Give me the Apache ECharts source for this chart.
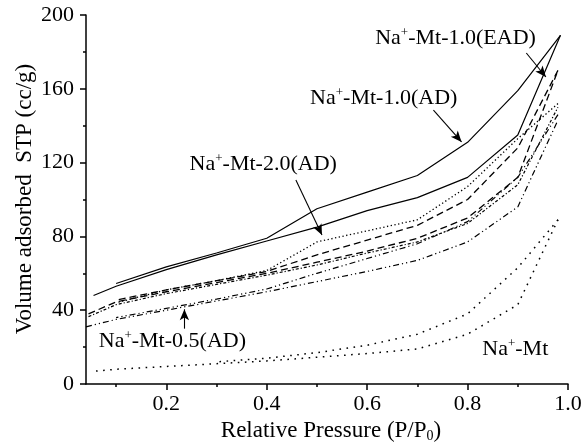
<!DOCTYPE html>
<html>
<head>
<meta charset="utf-8">
<script src="https://cdn.jsdelivr.net/npm/echarts@6/dist/echarts.min.js"></script>
<style>html,body{margin:0;padding:0;background:#fff}#c{width:582px;height:442px}</style>
</head>
<body>
<div id="c"></div>
<script>
// ---- data (relative pressure P/P0, volume adsorbed cc/g) ----
const xTickLabels = [0.2, 0.4, 0.6, 0.8, 1.0];
const xMinorTicks = [0.1, 0.3, 0.5, 0.7, 0.9];

const ad10_adsX = [0.055, 0.1, 0.2, 0.3, 0.4, 0.5, 0.6, 0.7, 0.8, 0.9, 0.985];
const ad10_adsY = [48, 53, 62, 70, 77.5, 85, 94, 101, 112, 135, 189];
const ad10_desX = [0.985, 0.9, 0.8, 0.7, 0.6, 0.5, 0.4, 0.3, 0.2, 0.1];
const ad10_desY = [189, 159, 131, 113, 104, 95, 79, 71, 63.5, 54.5];

const ead10_adsX = [0.045, 0.1, 0.2, 0.3, 0.4, 0.5, 0.6, 0.7, 0.8, 0.9, 0.98];
const ead10_adsY = [38, 44.5, 50, 55, 60, 66, 72, 79, 90, 112, 170];
const ead10_desX = [0.98, 0.9, 0.8, 0.7, 0.6, 0.5, 0.4, 0.3, 0.2, 0.1];
const ead10_desY = [170, 128, 100, 86, 78, 70, 61, 56, 51, 45.5];

const ad20_adsX = [0.045, 0.1, 0.2, 0.3, 0.4, 0.5, 0.6, 0.7, 0.8, 0.9, 0.98];
const ad20_adsY = [36.5, 43, 49, 54, 59, 64.5, 71, 77, 87, 108, 150];
const ad20_desX = [0.98, 0.9, 0.8, 0.7, 0.6, 0.5, 0.4, 0.3, 0.2, 0.1];
const ad20_desY = [152, 133, 107, 89, 83, 77, 61.5, 56, 51, 44];

const ad05_adsX = [0.04, 0.1, 0.2, 0.3, 0.4, 0.5, 0.6, 0.7, 0.8, 0.9, 0.98];
const ad05_adsY = [31, 35, 40, 45, 50, 55.5, 61, 67, 77, 96, 143];
const ad05_desX = [0.98, 0.9, 0.8, 0.7, 0.6, 0.5, 0.4, 0.3, 0.2, 0.1];
const ad05_desY = [146, 112, 88, 76, 68, 60, 51.5, 46, 41, 36];

const mt_adsX = [0.06, 0.1, 0.2, 0.3, 0.4, 0.5, 0.6, 0.7, 0.8, 0.9, 0.98];
const mt_adsY = [7, 8, 9.5, 11, 12.5, 14.5, 16.5, 19, 27, 43, 89];
const mt_desX = [0.98, 0.9, 0.8, 0.7, 0.6, 0.5, 0.4, 0.3];
const mt_desY = [89, 63, 38, 27, 21, 17, 14, 12];

// annotation labels (text centre in data coords)
const labelTexts = ['Na|-Mt-1.0(EAD)', 'Na|-Mt-1.0(AD)', 'Na|-Mt-2.0(AD)', 'Na|-Mt-0.5(AD)', 'Na|-Mt'];
const labelX = [0.776, 0.633, 0.393, 0.212, 0.895];
const labelY = [187.5, 155, 119, 23, 19];
// arrows: from (x1,y1) to (x2,y2)
const arrowX1 = [0.917, 0.732, 0.458, 0.236];
const arrowY1 = [179.4, 148.5, 110.6, 30];
const arrowX2 = [0.956, 0.788, 0.51, 0.236];
const arrowY2 = [166.4, 131.2, 80.7, 40.5];

const FONT = "'Liberation Serif','Times New Roman',serif";
const zip = (xs, ys) => xs.map((x, i) => [x, ys[i]]);

function line(name, xs, ys, dash, width) {
  return {
    name: name, type: 'line', data: zip(xs, ys), symbol: 'none', silent: true,
    lineStyle: { color: '#000', width: width || 1.2, type: dash },
    xAxisIndex: 0, yAxisIndex: 0, z: 3
  };
}

const SOLID = 'solid';
const DASH = [7, 4];
const DOT = [1.3, 2.5];
const SDASHDOT = [3, 2, 1.2, 2];
const DASHDOTDOT = [6, 3, 1.2, 3, 1.2, 3];
const SPARSE = [1.6, 5.5];

const series = [
  line('1.0AD-ads', ad10_adsX, ad10_adsY, SOLID),
  line('1.0AD-des', ad10_desX, ad10_desY, SOLID),
  line('1.0EAD-ads', ead10_adsX, ead10_adsY, DASH, 1.3),
  line('1.0EAD-des', ead10_desX, ead10_desY, DASH, 1.3),
  line('2.0AD-ads', ad20_adsX, ad20_adsY, SDASHDOT),
  line('2.0AD-des', ad20_desX, ad20_desY, DOT, 1.3),
  line('0.5AD-ads', ad05_adsX, ad05_adsY, DASHDOTDOT),
  line('0.5AD-des', ad05_desX, ad05_desY, DASHDOTDOT),
  line('Mt-ads', mt_adsX, mt_adsY, SPARSE, 1.5),
  line('Mt-des', mt_desX, mt_desY, SPARSE, 1.5)
];

series[0].markLine = {
  silent: true, animation: false,
  symbol: ['none', 'arrow'], symbolSize: [7, 11],
  lineStyle: { color: '#000', width: 1.1, type: 'solid' },
  label: { show: false },
  data: arrowX1.map((x, i) => [
    { coord: [x, arrowY1[i]] },
    { coord: [arrowX2[i], arrowY2[i]] }
  ])
};

const chart = echarts.init(document.getElementById('c'), null, { renderer: 'canvas' });
const axisLineStyle = { color: '#000', width: 1.5 };
chart.setOption({
  animation: false,
  backgroundColor: '#fff',
  textStyle: { fontFamily: FONT, color: '#000' },
  grid: { left: 86, right: 14, top: 15, bottom: 58, containLabel: false, outerBoundsMode: 'none' },
  xAxis: [{
    type: 'value', min: 0.04, max: 1.0, position: 'bottom',
    axisLine: { show: true, lineStyle: axisLineStyle },
    axisTick: { show: true, length: 6, lineStyle: { color: '#000', width: 1.5 }, customValues: xTickLabels },
    axisLabel: { customValues: xTickLabels, fontFamily: FONT, fontSize: 22, color: '#000', margin: 9,
                 formatter: v => v.toFixed(1) },
    splitLine: { show: false },
    name: '{a|Relative Pressure (P/P}{b|0}{a|)}', nameLocation: 'middle', nameGap: 35,
    nameTextStyle: { padding: [0, 0, 0, 8], rich: {
      a: { fontFamily: FONT, fontSize: 23, color: '#000' },
      b: { fontFamily: FONT, fontSize: 14, color: '#000', verticalAlign: 'bottom', padding: [8, 0, 0, 0] }
    } }
  }, {
    type: 'value', min: 0.04, max: 1.0, position: 'bottom',
    axisLine: { show: false },
    axisTick: { show: true, length: 3, lineStyle: { color: '#000', width: 1.5 }, customValues: xMinorTicks },
    axisLabel: { show: false },
    splitLine: { show: false }
  }],
  yAxis: [{
    type: 'value', min: 0, max: 200, interval: 40,
    axisLine: { show: true, lineStyle: axisLineStyle },
    axisTick: { show: true, length: 6, lineStyle: { color: '#000', width: 1.5 } },
    minorTick: { show: true, splitNumber: 2, length: 3, lineStyle: { color: '#000', width: 1.5 } },
    axisLabel: { fontFamily: FONT, fontSize: 22, color: '#000', margin: 12 },
    splitLine: { show: false }
  }],
  series: series
});

const graphics = labelTexts.map((t, i) => {
  const parts = t.split('|');
  const p = chart.convertToPixel({ xAxisIndex: 0, yAxisIndex: 0 }, [labelX[i], labelY[i]]);
  return {
    type: 'text', x: p[0], y: p[1], z: 10, silent: true,
    style: {
      text: '{n|' + parts[0] + '}{s|+}{n|' + parts[1] + '}',
      align: 'center', verticalAlign: 'middle',
      rich: {
        n: { fontFamily: FONT, fontSize: 22, fill: '#000', lineHeight: 24 },
        s: { fontFamily: FONT, fontSize: 13, fill: '#000', verticalAlign: 'top', lineHeight: 24, padding: [0, 0, 10, 0] }
      }
    }
  };
});
// y axis title
graphics.push({
  type: 'text', x: 25, y: 199, rotation: Math.PI / 2, z: 10, silent: true,
  style: { text: 'Volume adsorbed  STP (cc/g)', fontFamily: FONT, fontSize: 23, fill: '#000',
           align: 'center', verticalAlign: 'middle' }
});
chart.setOption({ graphic: graphics });
</script>
</body>
</html>
